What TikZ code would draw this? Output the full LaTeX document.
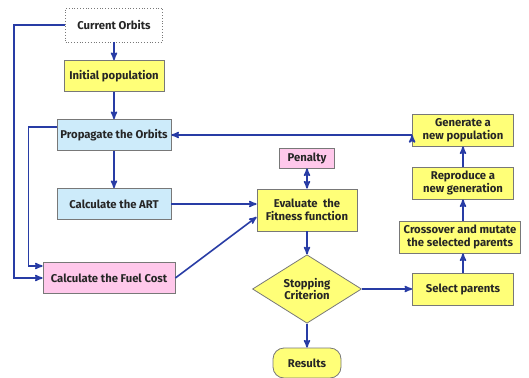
\documentclass[tikz,border=0pt]{standalone}
\usepackage{fontspec}
\setsansfont{Fira Sans}
\usetikzlibrary{arrows,shapes.geometric}

\definecolor{flowblue}{RGB}{40,60,165}
\definecolor{fillyellow}{RGB}{255,255,120}
\definecolor{fillblue}{RGB}{205,235,250}
\definecolor{fillpink}{RGB}{255,200,235}
\definecolor{edgegray}{RGB}{120,120,120}

\begin{document}
\begin{tikzpicture}[x=1pt,y=1pt,->,>=stealth',line width=1.6pt,
  draw=flowblue,
  step box/.style={rectangle,draw=edgegray,line width=0.8pt,
    font=\sffamily\bfseries\fontsize{11.3}{12.5}\selectfont,text=black!85,
    align=center,minimum height=31pt,inner sep=1pt},
  yellow box/.style={step box,fill=fillyellow},
  blue box/.style={step box,fill=fillblue,minimum width=114pt},
  pink box/.style={step box,fill=fillpink},
  start box/.style={step box,fill=white,dotted,minimum width=97pt,minimum height=34pt},
  test box/.style={step box,diamond,fill=fillyellow,minimum width=109pt,
    minimum height=53pt,inner sep=0pt},
  end box/.style={step box,fill=fillyellow,rounded corners=11pt,minimum width=68pt,
    minimum height=30pt}]

  \useasboundingbox (0,0) rectangle (529,-377);

  % left column
  \node[start box] (orbits) at (114,-25) {Current Orbits};
  \node[yellow box,minimum width=100pt] (init) [below of=orbits,node distance=51pt] {Initial population};
  \node[blue box] (prop) [below of=init,node distance=59pt] {Propagate the Orbits};
  \node[blue box] (art) [below of=prop,node distance=69pt] {Calculate the ART};
  \node[pink box,minimum width=132pt] (fuel) [below of=art,node distance=74pt,xshift=-5pt] {Calculate the Fuel Cost};

  % middle column
  \node[yellow box,minimum width=100pt,minimum height=42pt] (fit) at (307,-210) {Evaluate~ the\\Fitness function};
  \node[pink box,minimum width=55pt,minimum height=20pt] (pen) [above of=fit,node distance=52pt] {Penalty};
  \node[test box] (stop) [below of=fit,node distance=79pt] {Stopping\\Criterion};
  \node[end box] (res) [below of=stop,node distance=74pt] {Results};

  % right column
  \node[yellow box,minimum width=101pt,minimum height=32pt] (sel) [right of=stop,node distance=156pt] {Select parents};
  \node[yellow box,minimum width=121pt,minimum height=32pt] (cross) [above of=sel,node distance=52pt,xshift=-3pt] {Crossover and mutate\\the selected parents};
  \node[yellow box,minimum width=101pt,minimum height=32pt] (repro) [above of=cross,node distance=54pt,xshift=3pt] {Reproduce a\\new generation};
  \node[yellow box,minimum width=101pt,minimum height=32pt] (gen) [above of=repro,node distance=53pt] {Generate a\\new population};

  \path[draw=flowblue]
    (orbits) edge (init)
    (init) edge (prop)
    (prop) edge (art)
    (art.east) edge (art.east -| fit.west)
    (fuel.east) edge ([yshift=-7pt]fit.west)
    (pen) edge [<->] (fit)
    (fit) edge (stop)
    (stop) edge (res)
    (stop) edge (sel)
    (sel) edge (sel |- cross.south)
    (cross.north -| repro) edge (repro)
    (repro) edge (gen)
    (gen.west |- prop.east) edge (prop.east)
    ;
  % feedback lines on the left
  \draw[flowblue] (orbits.west) -- ++(-51,0) |- (fuel.west);
  \draw[flowblue] ([yshift=8pt]prop.west) -- ++(-28,0) |- ([yshift=12pt]fuel.west);
\end{tikzpicture}
\end{document}
